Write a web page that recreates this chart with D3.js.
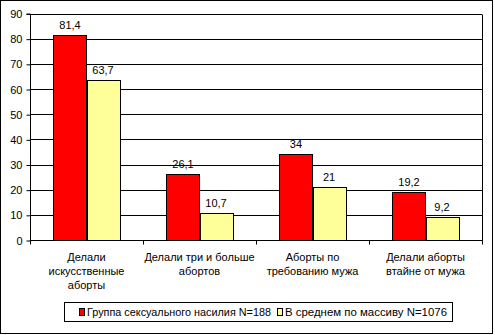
<!DOCTYPE html>
<html><head><meta charset="utf-8">
<script src="https://cdn.jsdelivr.net/npm/d3@7"></script>
<style>body{margin:0;background:#fff}svg{display:block}text{font-family:"Liberation Sans",Arial,sans-serif;fill:#000}</style>
</head><body><svg id="c" width="495" height="335"></svg>
<script>
const categories = [
  ["Делали", "искусственные", "аборты"],
  ["Делали три и больше", "абортов"],
  ["Аборты по", "требованию мужа"],
  ["Делали аборты", "втайне от мужа"]
];
const seriesNames = ["Группа сексуального насилия N=188", "В среднем по массиву N=1076"];
const seriesA = [81.4, 26.1, 34, 19.2];
const seriesB = [63.7, 10.7, 21, 9.2];
const yTicks = [0,10,20,30,40,50,60,70,80,90];
const colors = ["#FF0000", "#FFFF99"];

const svg = d3.select("#c");
svg.append("rect").attr("x",0.5).attr("y",0.5).attr("width",492).attr("height",333)
  .attr("fill","#fff").attr("stroke","#000");

const L=30, R=482, T=13.5, B=240;
const x = d3.scaleBand().domain(d3.range(categories.length)).range([L,R]).paddingInner(0).paddingOuter(0);
const y = d3.scaleLinear().domain([0,90]).range([B,T]);
const inner = d3.scaleBand().domain([0,1]).range([0,x.bandwidth()]).paddingInner(0).paddingOuter(0.71);

// gridlines
svg.append("g").selectAll("line").data(yTicks.filter(d=>d>0)).join("line")
  .attr("x1",L).attr("x2",R).attr("y1",d=>Math.round(y(d))+0.5).attr("y2",d=>Math.round(y(d))+0.5)
  .attr("stroke","#000");
svg.append("line").attr("x1",R+0.5).attr("x2",R+0.5).attr("y1",Math.round(y(90))+0.5).attr("y2",Math.round(B)+0.5).attr("stroke","#000");

// bars
const series=[seriesA,seriesB];
series.forEach((s,si)=>{
  svg.append("g").selectAll("rect").data(s).join("rect")
    .attr("x",(d,i)=>Math.round(x(i)+inner(si))+0.5)
    .attr("y",d=>Math.round(y(d))+0.5)
    .attr("width",Math.round(inner.bandwidth()))
    .attr("height",d=>Math.round(B)-Math.round(y(d)))
    .attr("fill",colors[si]).attr("stroke","#000");
  svg.append("g").selectAll("text").data(s).join("text")
    .attr("x",(d,i)=>x(i)+inner(si)+inner.bandwidth()/2)
    .attr("y",d=>y(d)-6)
    .attr("text-anchor","middle").attr("font-size",11)
    .text(d=>String(d).replace(".",","));
});

// y axis
const yAxis = d3.axisLeft(y).tickValues(yTicks).tickSize(4).tickPadding(4);
const gy = svg.append("g").attr("transform",`translate(${L+0.5},0.5)`).call(yAxis);
gy.select(".domain").attr("stroke","#000").attr("d",`M-4,${y(90)}H0V${y(0)}`);
gy.selectAll(".tick line").attr("stroke","#000");
gy.selectAll(".tick text").attr("font-size",11).attr("font-family","Liberation Sans, Arial, sans-serif").attr("fill","#000");

// x axis
const gx = svg.append("g").attr("transform",`translate(0,${Math.round(B)+0.5})`);
gx.append("line").attr("x1",L).attr("x2",R+1).attr("stroke","#000");
gx.selectAll("line.t").data(d3.range(categories.length+1)).join("line").attr("class","t")
  .attr("x1",i=>Math.round(L+i*x.bandwidth())+0.5).attr("x2",i=>Math.round(L+i*x.bandwidth())+0.5)
  .attr("y1",0).attr("y2",4).attr("stroke","#000");
categories.forEach((lines,i)=>{
  const t = svg.append("text").attr("text-anchor","middle").attr("font-size",11)
    .attr("x",x(i)+x.bandwidth()/2).attr("y",261);
  lines.forEach((ln,k)=>t.append("tspan").attr("x",x(i)+x.bandwidth()/2).attr("dy",k?14:0).text(ln));
});

// legend
const lg = svg.append("g");
lg.append("rect").attr("x",64.5).attr("y",302.5).attr("width",388).attr("height",19).attr("fill","#fff").attr("stroke","#000");
const legX=[79,277];
const legW=[184,162];
seriesNames.forEach((n,i)=>{
  lg.append("rect").attr("x",legX[i]+0.5).attr("y",308.5).attr("width",5).attr("height",7).attr("fill",colors[i]).attr("stroke","#000");
  lg.append("text").attr("x",legX[i]+8).attr("y",316).attr("font-size",11)
    .attr("textLength",legW[i]).attr("lengthAdjust","spacingAndGlyphs").text(n);
});
</script></body></html>
